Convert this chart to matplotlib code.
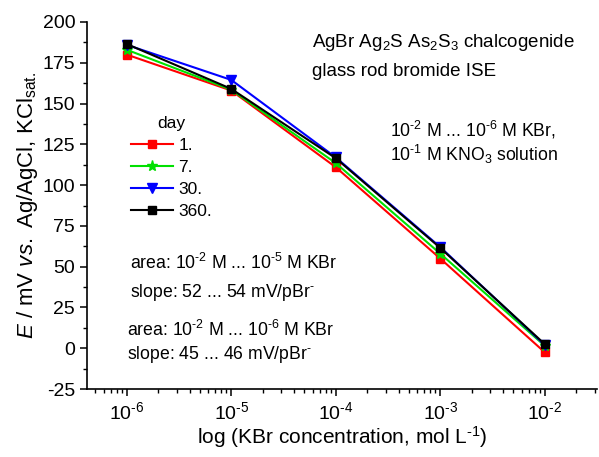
import numpy as np
import matplotlib
matplotlib.use("Agg")
import matplotlib.pyplot as plt
from matplotlib.ticker import LogLocator, FixedLocator, MultipleLocator, NullFormatter

plt.rcParams["font.family"] = ["Liberation Sans", "DejaVu Sans"]
plt.rcParams["mathtext.fontset"] = "custom"
plt.rcParams["mathtext.rm"] = "Liberation Sans"
plt.rcParams["mathtext.it"] = "Liberation Sans:italic"
plt.rcParams["mathtext.bf"] = "Liberation Sans:bold"
plt.rcParams["axes.unicode_minus"] = False

H = "\u2010"  # hyphen, like the original's superscript minus

# --- data ---
conc = [1e-6, 1e-5, 1e-4, 1e-3, 1e-2]
day_labels = ["1.", "7.", "30.", "360."]
e_day1 = [180, 158, 111, 55, -2.5]
e_day7 = [183, 158.5, 113.5, 58, 1.5]
e_day30 = [186, 164.5, 117, 62, 2]
e_day360 = [186.5, 159, 116.5, 61.5, 2.5]

series = [e_day1, e_day7, e_day30, e_day360]
colors = ["#ff0000", "#00e000", "#0000ff", "#000000"]
markers = ["s", "*", "v", "s"]
msizes = [6, 8, 7, 6]

fig = plt.figure(figsize=(5.99, 4.57), dpi=100)
ax = fig.add_axes([87/599, 68/457, 510/599, 367/457])

for vals, c, m, ms, lab in zip(series, colors, markers, msizes, day_labels):
    ax.plot(conc, vals, color=c, marker=m, markersize=ms, linewidth=1.5,
            markeredgecolor=c, markerfacecolor=c, label=lab)

ax.set_xscale("log")
ax.set_xlim(10**-6.38, 10**-1.5)
ax.set_ylim(-25, 200)

ax.xaxis.set_major_locator(FixedLocator(conc))
ax.xaxis.set_minor_locator(LogLocator(base=10, subs=np.arange(2, 10), numticks=20))
ax.xaxis.set_minor_formatter(NullFormatter())
ax.set_xticklabels([r"10$^{%s6}$" % H, r"10$^{%s5}$" % H, r"10$^{%s4}$" % H,
                    r"10$^{%s3}$" % H, r"10$^{%s2}$" % H])
ax.yaxis.set_major_locator(MultipleLocator(25))
ax.yaxis.set_minor_locator(MultipleLocator(12.5))

for s in ["top", "right"]:
    ax.spines[s].set_visible(False)
for s in ["left", "bottom"]:
    ax.spines[s].set_linewidth(1.2)

ax.tick_params(which="major", direction="out", length=5, width=1.1, labelsize=14)
ax.tick_params(which="minor", direction="out", length=3, width=1)

ax.set_xlabel(r"log (KBr concentration, mol L$^{%s1}$)" % H, fontsize=15, labelpad=1)
ax.set_ylabel(r"$E$ / mV $vs.$ Ag/AgCl, KCl$_{\mathrm{sat.}}$", fontsize=16, labelpad=2)

leg = ax.legend(title="day", loc="upper left", bbox_to_anchor=(0.087, 0.744),
                frameon=False, fontsize=12.5, title_fontsize=12.5,
                handlelength=2.4, handletextpad=0.3, labelspacing=0.4,
                borderpad=0, borderaxespad=0)

tfs = 12.7
ax.text(0.441, 0.943, r"AgBr Ag$_2$S As$_2$S$_3$ chalcogenide", transform=ax.transAxes,
        fontsize=13.5, va="center", ha="left")
ax.text(0.441, 0.864, "glass rod bromide ISE", transform=ax.transAxes,
        fontsize=13.5, va="center", ha="left")
ax.text(0.594, 0.706, r"10$^{%s2}$ M ... 10$^{%s6}$ M KBr," % (H, H), transform=ax.transAxes,
        fontsize=tfs, va="center", ha="left")
ax.text(0.594, 0.640, r"10$^{%s1}$ M KNO$_3$ solution" % H, transform=ax.transAxes,
        fontsize=tfs, va="center", ha="left")
ax.text(0.084, 0.343, r"area: 10$^{%s2}$ M ... 10$^{%s5}$ M KBr" % (H, H), transform=ax.transAxes,
        fontsize=tfs, va="center", ha="left")
ax.text(0.084, 0.264, r"slope: 52 ... 54 mV/pBr$^{%s}$" % H, transform=ax.transAxes,
        fontsize=tfs, va="center", ha="left")
ax.text(0.078, 0.161, r"area: 10$^{%s2}$ M ... 10$^{%s6}$ M KBr" % (H, H), transform=ax.transAxes,
        fontsize=tfs, va="center", ha="left")
ax.text(0.078, 0.095, r"slope: 45 ... 46 mV/pBr$^{%s}$" % H, transform=ax.transAxes,
        fontsize=tfs, va="center", ha="left")

fig.savefig("out.png", dpi=100)
